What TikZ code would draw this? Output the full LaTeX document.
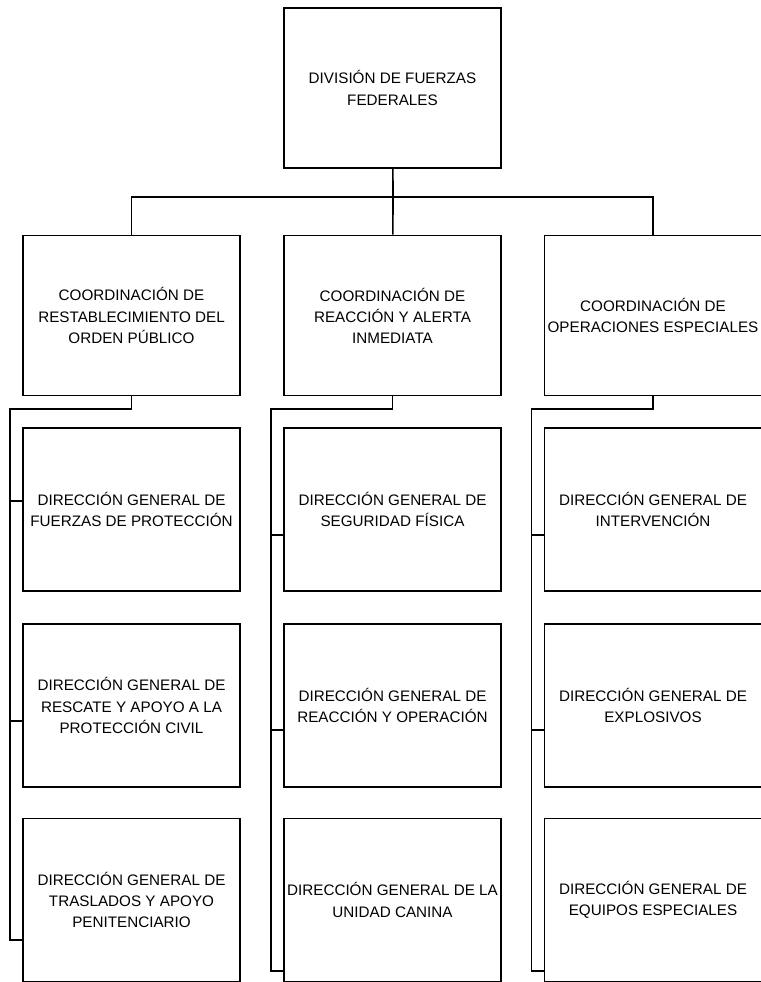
\documentclass[tikz,border=0pt]{standalone}
\usepackage{fontspec}
\setmainfont{Liberation Sans}
\usetikzlibrary{positioning}

\begin{document}
\begin{tikzpicture}[
            x = 0.03cm, y = -0.03cm, % one unit per pixel, y downwards
            line width = 1.4pt
            ,
            every text node part/.style={align=center} % multi line labels
        ]

        \tikzstyle{unit}=[
            draw = black,
            fill = white,
            inner sep = 0pt,
            minimum width = 6.51cm,
            minimum height = 4.8cm,
            font = \fontsize{13}{18}\selectfont
        ]
        \tikzstyle{subunit}=[unit, minimum height = 4.89cm]

        \useasboundingbox (0,0) rectangle (761,982);

        \node[unit] (DIV) at (392.5,88) {DIVISIÓN DE FUERZAS\\ FEDERALES};

        \node[unit] (ROP) at (131.5,315.5) {COORDINACIÓN DE\\ RESTABLECIMIENTO DEL\\ ORDEN PÚBLICO};
        \node[unit] (RAI) at (392.5,315.5) {COORDINACIÓN DE\\ REACCIÓN Y ALERTA\\ INMEDIATA};
        \node[unit] (OPE) at (653,315.5) {COORDINACIÓN DE\\ OPERACIONES ESPECIALES};

        \node[subunit] (FPR) at (131.5,509.5) {DIRECCIÓN GENERAL DE\\ FUERZAS DE PROTECCIÓN};
        \node[subunit] (RAP) at (131.5,705.5) {DIRECCIÓN GENERAL DE\\ RESCATE Y APOYO A LA\\ PROTECCIÓN CIVIL};
        \node[subunit] (TAP) at (131.5,900) {DIRECCIÓN GENERAL DE\\ TRASLADOS Y APOYO\\ PENITENCIARIO};

        \node[subunit] (SFI) at (392.5,509.5) {DIRECCIÓN GENERAL DE\\ SEGURIDAD FÍSICA};
        \node[subunit] (REO) at (392.5,705.5) {DIRECCIÓN GENERAL DE\\ REACCIÓN Y OPERACIÓN};
        \node[subunit] (UCA) at (392.5,900) {DIRECCIÓN GENERAL DE LA\\ UNIDAD CANINA};

        \node[subunit] (INT) at (653,509.5) {DIRECCIÓN GENERAL DE\\ INTERVENCIÓN};
        \node[subunit] (EXP) at (653,705.5) {DIRECCIÓN GENERAL DE\\ EXPLOSIVOS};
        \node[subunit] (EQE) at (653,900) {DIRECCIÓN GENERAL DE\\ EQUIPOS ESPECIALES};

        % bus under the division
        \coordinate (bus) at (393,197);
        \draw (DIV) -- (bus);
        \draw (ROP.north) |- (bus) -| (OPE.north);
        \draw (bus) -- (RAI);

        % rails down the left side of each column
        \coordinate (railA) at (10,409);
        \coordinate (railB) at (271,409);
        \coordinate (railC) at (531.5,409);

        \draw (ROP.south) |- (railA) -- (railA |- 0,940) -- (TAP.west |- 0,940);
        \draw (railA |- 0,501) -- (FPR.west |- 0,501);
        \draw (railA |- 0,721) -- (RAP.west |- 0,721);

        \draw (RAI.south) |- (railB) -- (railB |- 0,971) -- (UCA.west |- 0,971);
        \draw (railB |- 0,535) -- (SFI.west |- 0,535);
        \draw (railB |- 0,730) -- (REO.west |- 0,730);

        \draw (OPE.south) |- (railC) -- (railC |- 0,971) -- (EQE.west |- 0,971);
        \draw (railC |- 0,535) -- (INT.west |- 0,535);
        \draw (railC |- 0,730) -- (EXP.west |- 0,730);

    \end{tikzpicture}
\end{document}
